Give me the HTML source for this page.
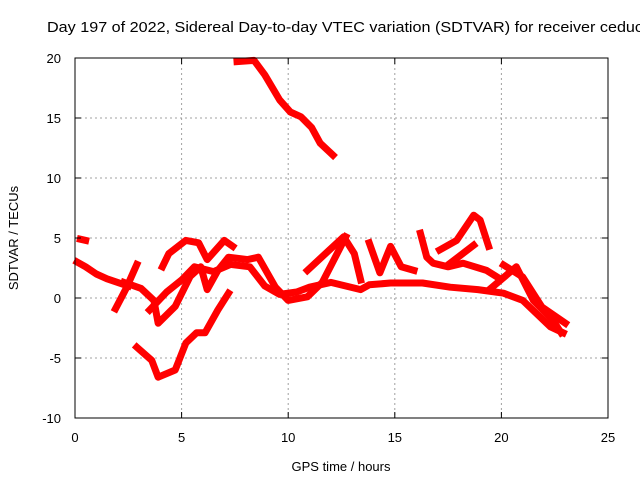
<!DOCTYPE html>
<html><head><meta charset="utf-8"><style>
body{margin:0;background:#fff;overflow:hidden;}
svg{display:block;font-family:"Liberation Sans",sans-serif;font-size:13px;}
</style></head><body>
<svg id="chart" width="640" height="480">
<text x="47" y="32" font-size="14.5" textLength="596" lengthAdjust="spacingAndGlyphs">Day 197 of 2022, Sidereal Day-to-day VTEC variation (SDTVAR) for receiver ceduc</text>
<g id="grid"></g>
<g id="series"></g>
<rect x="75" y="58" width="533" height="360" fill="none" stroke="#000" stroke-width="1"/>
<g id="ticks"></g>
<text x="341" y="471" text-anchor="middle">GPS time / hours</text>
<text transform="translate(18,238) rotate(-90)" text-anchor="middle">SDTVAR / TECUs</text>
</svg>
<script>
const xTicks=[0,5,10,15,20,25];
const yTicks=[-10,-5,0,5,10,15,20];
const traceA=[[0.25,4.9],[0.5,4.8]];
const traceB=[[0.1,3.0],[0.5,2.6],[1,2.0],[1.5,1.6],[2,1.3],[2.5,1.0]];
const traceC=[[1.9,-0.9],[2.4,0.8],[2.9,2.8]];
const traceD=[[2.3,1.3],[3.1,0.8],[3.7,-0.2],[3.9,-2.1],[4.7,-0.7],[5.4,1.8],[5.9,2.6],[6.2,0.7],[6.7,2.3],[7.2,3.4],[8.1,3.2],[8.6,3.4],[9.4,0.9],[10,-0.2],[10.9,0.1],[11.6,1.3],[12.7,5.1]];
const traceE=[[4.1,2.6],[4.4,3.7],[5.2,4.8],[5.8,4.6],[6.2,3.2],[7.0,4.8],[7.4,4.3]];
const traceF=[[2.9,-4.1],[3.6,-5.2],[3.9,-6.6],[4.7,-6.0],[5.2,-3.75],[5.7,-2.9],[6.1,-2.9],[6.7,-1.0],[7.2,0.4]];
const traceG=[[7.6,19.7],[8.4,19.8],[8.9,18.6],[9.6,16.5],[10.1,15.5],[10.6,15.1],[11.1,14.2],[11.5,12.9],[12.1,11.9]];
const traceH=[[3.5,-1.0],[4.3,0.5],[5,1.5],[5.6,2.6],[6.5,2.2],[7.3,2.8],[8.2,2.6],[8.9,1.0],[9.6,0.3],[10.4,0.5],[11,0.9],[12,1.3],[13.4,0.7],[13.8,1.1],[14.8,1.25],[16.3,1.25],[17.6,0.9],[18.9,0.7],[20.1,0.4],[21,-0.2],[22.3,-2.4],[22.9,-2.9]];
const traceI=[[10.9,2.3],[12.6,5.1],[13.1,3.7],[13.4,1.5]];
const traceJ=[[13.8,4.6],[14.3,2.1],[14.8,4.3],[15.3,2.6],[15.9,2.3]];
const traceK=[[16.2,5.4],[16.5,3.4],[16.8,2.9],[17.5,2.6],[18.2,2.9],[19.3,2.3],[19.8,1.75]];
const traceL=[[17.1,4.0],[17.9,4.8],[18.7,6.9],[19.0,6.5],[19.4,4.3]];
const traceM=[[17.6,2.9],[18.7,4.4]];
const traceN=[[20.1,2.75],[21,1.75],[21.9,-0.75],[23,-2.1]];
const traceO=[[19.5,0.8],[20.7,2.6],[21.5,-0.2],[22.4,-1.8],[22.8,-2.9]];
const traces=[traceA,traceB,traceC,traceD,traceE,traceF,traceG,traceH,traceI,traceJ,traceK,traceL,traceM,traceN,traceO];
const X0=75,X1=608,Y0=418,Y1=58,XMIN=0,XMAX=25,YMIN=-10,YMAX=20;
const sx=h=>X0+(h-XMIN)/(XMAX-XMIN)*(X1-X0);
const sy=v=>Y0-(v-YMIN)/(YMAX-YMIN)*(Y0-Y1);
const NS='http://www.w3.org/2000/svg';
const grid=document.getElementById('grid'),ticks=document.getElementById('ticks'),ser=document.getElementById('series');
function mk(tag,attrs,parent){const e=document.createElementNS(NS,tag);for(const k in attrs)e.setAttribute(k,attrs[k]);parent.appendChild(e);return e;}
xTicks.forEach(t=>{const x=sx(t);
 if(t>XMIN&&t<XMAX){const g=mk('line',{x1:x,x2:x,y1:Y1,y2:Y0,stroke:'#a0a0a0','stroke-dasharray':'2,3'},grid);
 
 }
 const a=mk('line',{x1:x,x2:x,y1:Y0,y2:Y0-6,stroke:'#000'},ticks);
 
 
 const b=mk('line',{x1:x,x2:x,y1:Y1,y2:Y1+6,stroke:'#000'},ticks);
 
 
 const l=mk('text',{x:x,y:442,'text-anchor':'middle'},ticks);l.textContent=t;
 
 
});
yTicks.forEach(t=>{const y=sy(t);
 if(t>YMIN&&t<YMAX){const g=mk('line',{x1:X0,x2:X1,y1:y,y2:y,stroke:'#a0a0a0','stroke-dasharray':'2,3'},grid);
 
 }
 const a=mk('line',{x1:X0,x2:X0+6,y1:y,y2:y,stroke:'#000'},ticks);
 
 
 const b=mk('line',{x1:X1,x2:X1-6,y1:y,y2:y,stroke:'#000'},ticks);
 
 
 const l=mk('text',{x:X0-14,y:y+5,'text-anchor':'end'},ticks);l.textContent=t;
 
 
});
traces.forEach(tr=>{
 const p=mk('polyline',{points:tr.map(d=>sx(d[0])+','+sy(d[1])).join(' '),fill:'none',stroke:'#ff0000','stroke-width':7,'stroke-linejoin':'round','stroke-linecap':'square'},ser);
 
 
});
</script>
</body></html>
